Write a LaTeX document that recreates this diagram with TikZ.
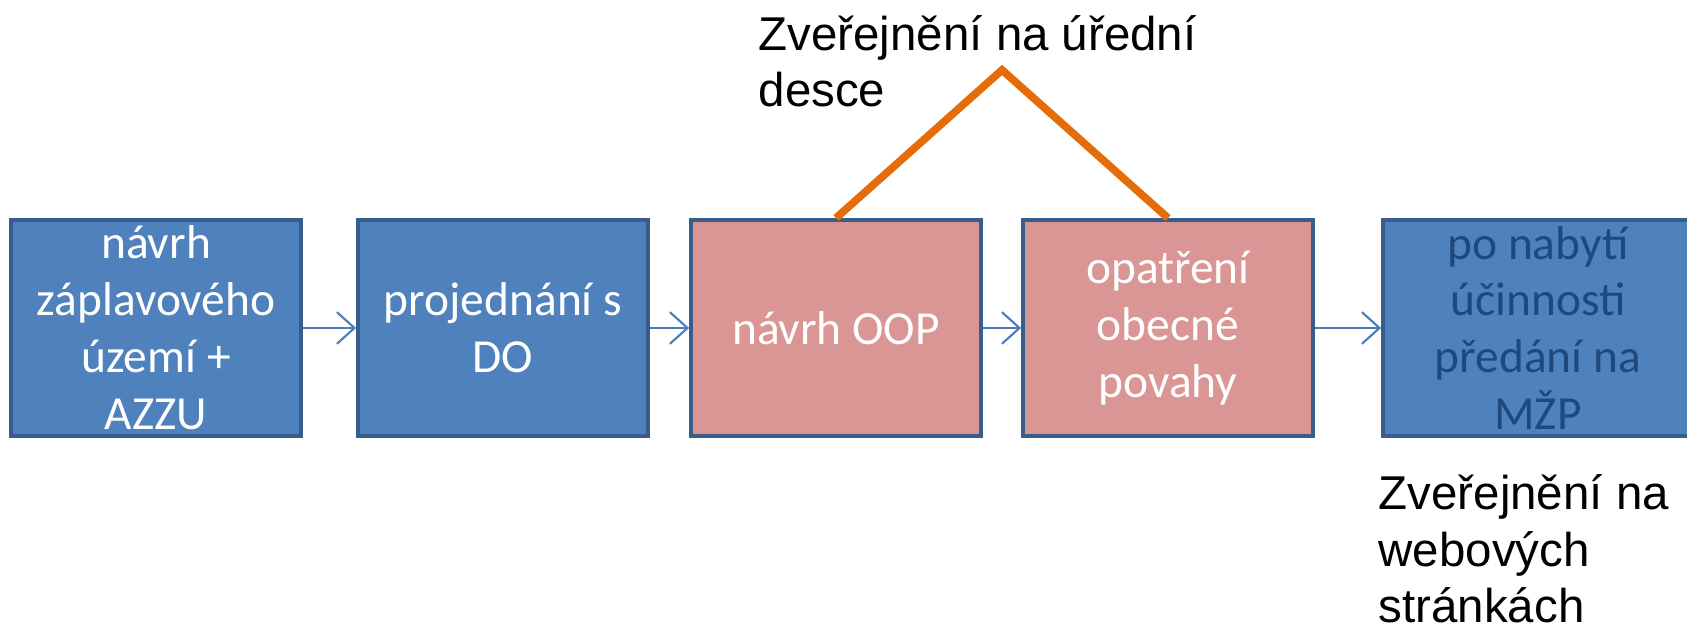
\documentclass[tikz,border=0pt]{standalone}
\usepackage{fontspec}
\setmainfont{Liberation Sans}
\newfontfamily\boxfont{Carlito}
\usetikzlibrary{arrows.meta}

\definecolor{boxblue}{HTML}{4F81BD}
\definecolor{boxpink}{HTML}{D99694}
\definecolor{boxedge}{HTML}{385D8A}
\definecolor{flowblue}{HTML}{4A7EBB}
\definecolor{darktext}{HTML}{1F497D}
\definecolor{publine}{HTML}{E46C0A}

\newcommand{\boxlines}[2][2.9cm]{\parbox[c][2.16cm][c]{#1}{\centering #2}}

\begin{document}
\begin{tikzpicture}[
box/.style={draw=boxedge, line width=1.1pt, inner sep=0pt, text=white,
  font=\boxfont\fontsize{13.5}{16.2}\selectfont},
flow/.style={-{Straight Barb[length=5pt,width=9pt]}, draw=flowblue, line width=0.6pt},
note/.style={align=left, inner sep=0pt, font=\fontsize{13.5}{16.2}\selectfont},
]
\clip (0,0) rectangle (16.87,6.30);

\begin{scope}[every node/.style={box}]
\node[fill=boxblue](azzu) at(1.56,3.02) {\boxlines{návrh\\záplavového\\území +\\AZZU}};
\node[fill=boxblue](do) at(5.03,3.02) {\boxlines{projednání s\\DO}};
\node[fill=boxpink](oop) at(8.36,3.02) {\boxlines{návrh OOP}};
\node[fill=boxpink](oobp) at(11.68,3.02) {\boxlines{opatření\\obecné\\povahy}};
\node[fill=boxblue, text=darktext](mzp) at(15.38,3.02) {\boxlines[3.1cm]{po nabytí\\účinnosti\\předání na\\MŽP}};
\end{scope}

\draw[flow] (azzu) -- (do);
\draw[flow] (do) -- (oop);
\draw[flow] (oop) -- (oobp);
\draw[flow] (oobp) -- (mzp);

\coordinate (apex) at (10.02,5.60);
\draw[publine, line width=2.2pt] 
(oop.north) -- (apex) -- (oobp.north)
;

\node[note, anchor=base west](deska) at(7.58,5.23) {Zveřejnění na úřední\\desce};
\node[note, anchor=base west](web) at(13.78,0.07) {Zveřejnění na\\webových\\stránkách};

\end{tikzpicture}
\end{document}
